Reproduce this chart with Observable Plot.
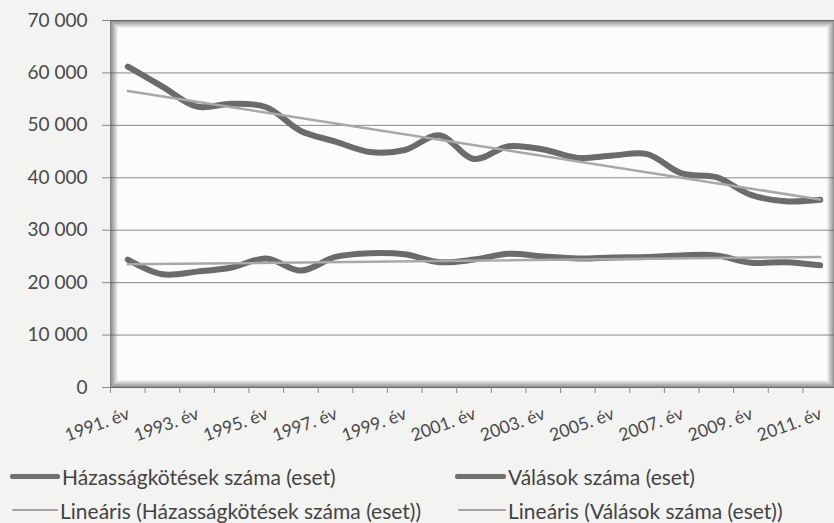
<!DOCTYPE html>
<html><head><meta charset="utf-8">
<script src="https://cdn.jsdelivr.net/npm/d3@7"></script>
<script src="https://cdn.jsdelivr.net/npm/@observablehq/plot@0.6"></script>
<style>
body{margin:0;background:#f3f3f1;font-family:Lato,"Open Sans",sans-serif;color:#444;}
#wrap{position:relative;width:834px;height:523px;overflow:hidden;}
#chart svg{display:block;}
#legend{position:absolute;left:0;top:435px;width:834px;height:88px;}
.item{position:absolute;display:flex;align-items:center;font-size:21px;white-space:nowrap;height:22px;}
.sw{display:inline-block;margin-right:2px;border-radius:2px;}
</style></head><body><div id="wrap"><div id="chart"></div><div id="legend"></div></div>
<script>
const years = [1991,1992,1993,1994,1995,1996,1997,1998,1999,2000,2001,2002,2003,2004,2005,2006,2007,2008,2009,2010,2011];
const marriages = [61198,57403,53572,54114,53463,48930,46905,44915,45306,48110,43583,46008,45398,43791,44234,44528,40842,40105,36730,35520,35812];
const divorces = [24400,21600,22100,22900,24600,22300,24900,25600,25400,23900,24400,25500,25000,24600,24800,24900,25200,25200,23800,23900,23300];
const seriesNames = ["Házasságkötések száma (eset)", "Válások száma (eset)"];
const trendNames = seriesNames.map(n => `Lineáris (${n})`);
const yTicks = [0,10000,20000,30000,40000,50000,60000,70000];
const labelYears = [1991,1993,1995,1997,1999,2001,2003,2005,2007,2009,2011];

const rowsM = years.map((yr,i)=>({year:yr, value:marriages[i]}));
const rowsD = years.map((yr,i)=>({year:yr, value:divorces[i]}));
const boundaries = [...years.map(y=>y-0.5), years[years.length-1]+0.5];
const fmt = d => d3.format(",")(d).replace(/,/g, " ");

const shade = d3.range(8).map(i => Plot.frame({inset: i, stroke: "#555", strokeOpacity: 0.7 - i*0.09}));

const chart = Plot.plot({
  width: 834, height: 435,
  marginLeft: 110, marginRight: 0, marginTop: 20, marginBottom: 48,
  style: {fontFamily: "Lato, 'Open Sans', sans-serif", fontSize: "16px", color: "#4a4a4a", background: "transparent", overflow: "visible"},
  x: {domain: [years[0]-0.5, years[years.length-1]+0.5], range: [110, 837], label: null},
  y: {domain: [0, 70000], label: null},
  marks: [
    Plot.frame({fill: "#fcfcfc"}),
    Plot.gridY(yTicks, {stroke: "#8a8a8a", strokeOpacity: 1}),
    ...shade,
    Plot.axisY(yTicks, {tickSize: 8, tickPadding: 15, stroke: "#8a8a8a", tickFormat: fmt, fontSize: 19, label: null}),
    Plot.axisX(boundaries, {tickSize: 6, tickFormat: () => "", stroke: "#888", label: null}),
    Plot.axisX(labelYears, {tickSize: 0, tickRotate: -20, tickFormat: d => `${d}. év`, fontSize: 17.5, dx: 1, dy: 13, label: null}),
    Plot.lineY(rowsD, {x: "year", y: "value", stroke: "#6b6b6b", strokeWidth: 6, curve: "catmull-rom"}),
    Plot.lineY(rowsM, {x: "year", y: "value", stroke: "#6b6b6b", strokeWidth: 6, curve: "catmull-rom"}),
    Plot.linearRegressionY(rowsM, {x: "year", y: "value", stroke: "#a8a8a8", strokeWidth: 2.5, ci: 0}),
    Plot.linearRegressionY(rowsD, {x: "year", y: "value", stroke: "#a8a8a8", strokeWidth: 2.5, ci: 0})
  ]
});
document.getElementById("chart").append(chart);

const legendItems = [
  {label: seriesNames[0], left: 10, top: 30, w: 50, h: 5, c: "#6f6f6f"},
  {label: seriesNames[1], left: 455, top: 30, w: 51, h: 5, c: "#6f6f6f"},
  {label: trendNames[0], left: 12, top: 64, w: 46, h: 2, c: "#a5a5a5"},
  {label: trendNames[1], left: 458, top: 64, w: 48, h: 2, c: "#a5a5a5"}
];
const leg = document.getElementById("legend");
for (const it of legendItems) {
  const d = document.createElement("div");
  d.className = "item";
  d.style.left = it.left + "px";
  d.style.top = it.top + "px";
  const s = document.createElement("span");
  s.className = "sw";
  s.style.width = it.w + "px"; s.style.height = it.h + "px"; s.style.background = it.c;
  d.append(s, document.createTextNode(it.label));
  leg.append(d);
}
</script></body></html>
